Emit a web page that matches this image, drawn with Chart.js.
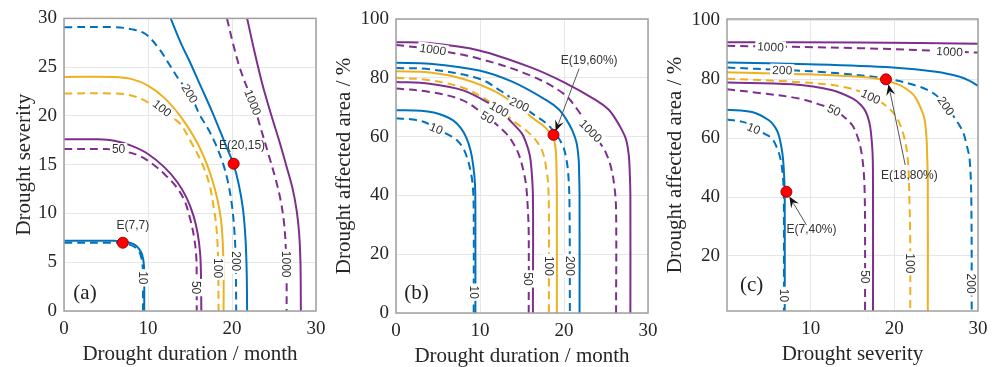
<!DOCTYPE html>
<html><head><meta charset="utf-8">
<script src="https://cdn.jsdelivr.net/npm/chart.js@4.4.1/dist/chart.umd.min.js"></script>
<style>
html,body{margin:0;padding:0;background:#fff;width:998px;height:367px;overflow:hidden}
canvas{position:absolute;left:0;top:0}
</style></head><body>
<canvas id="ca" width="998" height="367"></canvas>
<canvas id="cb" width="998" height="367"></canvas>
<canvas id="cc" width="998" height="367"></canvas>
<script>
// ---------- Panel (a): duration vs severity ----------
const a10s = [[0,7.2],[6,7.2],[7,7.1],[7.8,7.0],[8.6,6.7],[9.2,6.0],[9.45,5.2],[9.55,4],[9.55,0]];
const a10d = [[0,7.0],[6,7.0],[7,6.95],[7.8,6.8],[8.5,6.5],[9.05,5.9],[9.3,5.0],[9.4,4],[9.4,0]];
const a50s = [[0,17.6],[4,17.6],[6,17.45],[8,16.95],[10,16.1],[12,14.7],[13.5,13.2],[14.6,11.6],[15.4,9.8],[15.9,8],[16.2,6],[16.3,4],[16.35,0]];
const a50d = [[0,16.6],[5,16.6],[7,16.4],[9,15.9],[10.5,15.1],[12,14.0],[13.3,12.8],[14.3,11.4],[15.0,9.5],[15.5,7.5],[15.75,5.5],[15.8,3],[15.8,0]];
const a100s = [[0,24.0],[6,24.0],[8,23.8],[10,23.1],[12,21.8],[14,19.8],[15.7,17.5],[16.9,15.3],[17.7,13.3],[18.3,11.3],[18.7,9.3],[18.9,7],[19.0,4],[19.0,0]];
const a100d = [[0,22.3],[6,22.3],[8,22.1],[10,21.4],[12,20.2],[13.7,19.3],[15.2,17.2],[16.4,15.2],[17.3,13.0],[17.9,10.2],[18.2,8],[18.35,5],[18.4,0]];
const a200s = [[12.7,30],[13.9,27.5],[15.0,25.5],[16.3,23],[17.6,20.5],[18.7,18.2],[19.5,16.5],[20.2,15.0],[20.8,13],[21.3,10.5],[21.6,7.5],[21.75,4],[21.8,0]];
const a200d = [[0,29.1],[6,29.1],[8,28.9],[9.7,28.4],[11.3,26.9],[12.6,25.2],[13.7,23.7],[15.0,22.3],[16.1,20.2],[17.2,18.6],[18.1,17.0],[18.9,15.2],[19.5,13.3],[20.0,10.8],[20.3,8],[20.45,5],[20.5,0]];
const a1000s = [[21.8,30],[22.7,26.5],[23.6,23.3],[24.6,20.3],[25.6,17.5],[26.5,14.8],[27.2,12.6],[27.7,10.3],[28.0,7.9],[28.15,5],[28.2,0]];
const a1000d = [[19.4,30],[20.1,27.5],[20.9,25.0],[21.7,23.1],[22.5,21.4],[23.4,18.8],[24.4,15.9],[25.2,13.5],[25.8,11.3],[26.2,9],[26.4,6.5],[26.5,3],[26.5,0]];
const ptsA = [[7,7],[20.2,15.1]];
const labA = [['10',9.45,3.4,90],['50',15.8,2.4,90],['100',18.4,4.4,90],['200',20.5,5.1,90],['1000',26.5,4.8,90],
              ['50',6.5,16.6,0],['100',11.7,20.8,38],['200',15.0,22.3,58],['1000',22.5,21.4,68]];
const noteA = [['E(7,7)',8.2,8.7],['E(20,15)',21.2,17.0]];
const arrowA = [];
const xTicksA = [0,10,20,30], yTicksA = [0,5,10,15,20,25,30];

// ---------- Panel (b): duration vs affected area ----------
const b10s = [[0,69.0],[3,68.8],[4.5,68.2],[5.8,67],[6.8,65.5],[7.7,63],[8.4,59.5],[8.9,55],[9.2,50],[9.4,44],[9.45,35],[9.45,0]];
const b10d = [[0,66.2],[2,65.8],[3.5,64.8],[4.8,62.8],[6,61],[7.2,58.9],[8,56],[8.5,52.5],[8.9,48],[9.15,43],[9.25,35],[9.25,0]];
const b50s = [[0,78.6],[4,78.0],[7.9,75.8],[11.1,71.3],[12.6,68.2],[13.9,64.5],[15.0,61],[15.5,57.8],[15.9,54],[16.1,49.9],[16.3,40],[16.3,0]];
const b50d = [[0,76.4],[4,75.2],[7.9,72.4],[10.5,67.5],[13.1,61.1],[14.1,57],[14.7,53.3],[15.2,48],[15.5,43.1],[15.7,35],[15.8,27],[15.8,0]];
const b100s = [[0,82.2],[4,81.8],[7.9,79.7],[11.9,75.2],[15.1,69.0],[16.5,65.8],[17.5,63.8],[18.2,61.8],[18.7,60],[19.0,56],[19.1,50],[19.15,40],[19.15,0]];
const b100d = [[0,80.0],[4,79.2],[7.9,76.7],[10.5,73],[12.3,69.5],[14.3,64.6],[15.9,61.1],[16.9,57.8],[17.5,54.4],[17.9,49],[18.1,44.3],[18.2,35],[18.2,0]];
const b200s = [[0,85.1],[4,84.8],[9.9,82.5],[13.9,78.6],[17.9,72.4],[19.4,69.2],[20.3,65.7],[21.0,62],[21.5,57.8],[21.75,52],[21.8,47.6],[21.85,40],[21.85,0]];
const b200d = [[0,83.3],[4,82.9],[9.9,79.7],[12.5,75.5],[14.7,71],[16.5,67.3],[17.9,64.5],[19.0,61],[19.9,56.6],[20.3,52],[20.5,47.6],[20.65,38],[20.7,0]];
const b1000s = [[0,92.1],[4,91.8],[9.9,89.3],[15.9,83.7],[19.9,78.6],[23.8,72.4],[25.3,69.2],[26.2,65.7],[26.9,62.2],[27.4,58.9],[27.7,54],[27.8,49.9],[27.9,40],[27.9,0]];
const b1000d = [[0,91.2],[4.4,89.6],[9.9,86.5],[15.9,80.9],[19.9,74.7],[21.7,68.8],[23.2,62],[24.3,57.8],[25.0,54.4],[25.6,49.5],[26.0,43.1],[26.2,35],[26.2,0]];
const ptsB = [[18.75,60.6]];
const labB = [['10',9.3,7.1,90],['50',15.75,11.6,90],['100',18.2,16,90],['200',20.7,16,90],
              ['10',4.8,62.8,22],['50',10.9,66.6,30],['100',12.3,69.4,30],['200',14.7,71.0,25],['1000',4.4,89.7,8],['1000',23.2,62,45]];
const noteB = [['E(19,60%)',23.0,85.8]];
const arrowB = [[21.8,83.1,19.0,61.8]];
const xTicksB = [0,10,20,30], yTicksB = [0,20,40,60,80,100];

// ---------- Panel (c): severity vs affected area ----------
const c10s = [[0,69.7],[3,68.9],[5,66.1],[5.8,63.5],[6.2,60.9],[6.5,57],[6.7,52.9],[6.85,46],[6.9,39.2],[6.9,0]];
const c10d = [[0,66.4],[2.2,65.3],[3.2,63.5],[4.5,61.5],[5.4,59.8],[6.0,56.5],[6.4,52.9],[6.65,48],[6.75,43.8],[6.8,35],[6.8,0]];
const c50s = [[0,78.9],[7.8,78.3],[12.6,76.3],[15.0,73.5],[16.0,71.3],[16.6,68.9],[17.0,65.5],[17.2,62.1],[17.4,55],[17.45,45],[17.45,0]];
const c50d = [[0,76.6],[3.8,75.4],[8.6,73.5],[11,71.5],[12.8,69.6],[14,67.2],[15.0,64.3],[15.6,60.5],[16.0,56.3],[16.3,50],[16.45,42],[16.5,27.8],[16.5,0]];
const c100s = [[0,82.4],[9.8,81.7],[17.8,80.3],[20.6,78.1],[22.0,75.5],[22.6,73.5],[23.2,70],[23.6,66.6],[23.85,60],[23.9,56.3],[24.0,45],[24.0,0]];
const c100d = [[0,80.2],[7.8,79.2],[13.8,77.5],[17.2,74.2],[19.8,68.9],[21.0,62.1],[21.6,52.9],[21.8,39.2],[21.9,25],[21.9,0]];
const c200s = [[0,85.7],[9.8,85.1],[19.8,84.0],[25,82.6],[27.8,80.9],[29,79.5],[30,77.8]];
const c200d = [[0,84.0],[6.6,83.2],[11.8,82.4],[19,80.3],[23,77.5],[24.8,75],[26.2,71],[27.3,66.5],[28.2,62.1],[28.7,57],[29.0,52.9],[29.2,39.2],[29.25,0]];
const c1000s = [[0,92.6],[15.8,92.5],[30,92.1]];
const c1000d = [[0,91.4],[15.8,90.6],[26.6,89.5],[30,89.1]];
const ptsC = [[7.1,41.8],[19.0,80.0]];
const labC = [['10',6.8,6.6,90],['50',16.5,12.9,90],['100',21.9,17.5,90],['200',29.25,10.6,90],
              ['10',3.2,63.4,22],['50',12.8,69.6,25],['100',17.2,74.2,25],['200',6.6,83.2,2],['200',26.2,71,55],['1000',5.2,91.1,3],['1000',26.6,89.5,3]];
const noteC = [['E(7,40%)',10.1,28.8],['E(18,80%)',21.8,47.3]];
const arrowC = [[9.5,30.5,7.45,40.2],[21.3,50.9,19.3,78.3]];
const xTicksC = [10,20,30], yTicksC = [20,40,60,80,100];

// ---------- styling ----------
const BLUE='#0072BD', PURPLE='#7E2F8E', YELLOW='#EDB120';
const SERIF='"Liberation Serif","Times New Roman",serif';
const SANS='"Liberation Sans",Arial,sans-serif';
const toXY = arr => arr.map(p => ({x:p[0], y:p[1]}));

function curveSet(list){
  return list.map(([pts,color,dashed]) => ({
    data: toXY(pts), showLine:true, borderColor:color, backgroundColor:color,
    borderWidth:2, borderDash: dashed ? [8,5] : [], pointRadius:0, tension:0.35, fill:false
  }));
}

const overlay = {
  id:'overlay',
  afterDatasetDraw(chart, args, o){
    if (args.index !== 1) return;
    const ctx = chart.ctx, xs = chart.scales.x, ys = chart.scales.y, ca = chart.chartArea;
    ctx.save();
    ctx.beginPath(); ctx.rect(ca.left, ca.top, ca.right-ca.left, ca.bottom-ca.top); ctx.clip();
    ctx.font = '12px ' + SANS; ctx.textAlign='center'; ctx.textBaseline='middle';
    o.labels.forEach(([t,x,y,ang]) => {
      const px = xs.getPixelForValue(x), py = ys.getPixelForValue(y);
      ctx.save(); ctx.translate(px,py); ctx.rotate(ang*Math.PI/180);
      const w = ctx.measureText(t).width;
      ctx.fillStyle='#fff'; ctx.fillRect(-w/2-2,-6,w+4,12);
      ctx.fillStyle='#333'; ctx.fillText(t,0,1);
      ctx.restore();
    });
    ctx.restore();
  },
  afterDatasetsDraw(chart, args, o){
    const ctx = chart.ctx, xs = chart.scales.x, ys = chart.scales.y, ca = chart.chartArea;
    ctx.save();
    // arrows
    o.arrows.forEach(([x1,y1,x2,y2]) => {
      const p1x=xs.getPixelForValue(x1), p1y=ys.getPixelForValue(y1);
      const p2x=xs.getPixelForValue(x2), p2y=ys.getPixelForValue(y2);
      const a=Math.atan2(p2y-p1y,p2x-p1x);
      ctx.strokeStyle='#555'; ctx.lineWidth=1;
      ctx.beginPath(); ctx.moveTo(p1x,p1y); ctx.lineTo(p2x-8*Math.cos(a),p2y-8*Math.sin(a)); ctx.stroke();
      ctx.fillStyle='#111';
      ctx.beginPath(); ctx.moveTo(p2x,p2y);
      ctx.lineTo(p2x-11*Math.cos(a)+4.5*Math.sin(a), p2y-11*Math.sin(a)-4.5*Math.cos(a));
      ctx.lineTo(p2x-7*Math.cos(a), p2y-7*Math.sin(a));
      ctx.lineTo(p2x-11*Math.cos(a)-4.5*Math.sin(a), p2y-11*Math.sin(a)+4.5*Math.cos(a));
      ctx.closePath(); ctx.fill();
    });
    // notes
    ctx.font='12px '+SANS; ctx.fillStyle='#333'; ctx.textAlign='center'; ctx.textBaseline='middle';
    o.notes.forEach(([t,x,y]) => ctx.fillText(t, xs.getPixelForValue(x), ys.getPixelForValue(y)));
    // panel tag
    ctx.font='21px '+SERIF; ctx.fillStyle='#222';
    ctx.fillText(o.tag[0], xs.getPixelForValue(o.tag[1]), ys.getPixelForValue(o.tag[2]));
    // frame
    ctx.strokeStyle='#a0a0a0'; ctx.lineWidth=1.5;
    ctx.strokeRect(ca.left, ca.top, ca.right-ca.left, ca.bottom-ca.top);
    ctx.restore();
  }
};

function makePanel(id, cfg){
  const datasets = [{
    data: toXY(cfg.pts), showLine:false, pointRadius:5.5, pointBackgroundColor:'#ff0000',
    pointBorderColor:'#a00000', pointBorderWidth:1
  }].concat(curveSet(cfg.curves));
  return new Chart(document.getElementById(id), {
    type:'scatter',
    data:{datasets},
    options:{
      responsive:false, animation:false, devicePixelRatio:1,
      events:[],
      layout:{padding:cfg.pad},
      plugins:{legend:{display:false}, tooltip:{enabled:false},
        overlay:{labels:cfg.labels, notes:cfg.notes, arrows:cfg.arrows, tag:cfg.tag}},
      scales:{
        x:{type:'linear', min:cfg.xr[0], max:cfg.xr[1],
          afterBuildTicks: s => { s.ticks = cfg.xt.map(v=>({value:v})); },
          afterFit: s => { s.height = cfg.xh; },
          grid:{color:'#e6e6e6', lineWidth:1, drawTicks:false},
          border:{display:false},
          ticks:{autoSkip:false, maxRotation:0, padding:cfg.xtp, color:'#262626', font:{family:SERIF, size:19}},
          title:{display:true, text:cfg.xtitle, color:'#262626', font:{family:SERIF, size:21, lineHeight:1}, padding:{top:0,bottom:cfg.xtitlePad}}
        },
        y:{type:'linear', min:cfg.yr[0], max:cfg.yr[1],
          afterBuildTicks: s => { s.ticks = cfg.yt.map(v=>({value:v})); },
          afterFit: s => { s.width = 64; },
          grid:{color:'#e6e6e6', lineWidth:1, drawTicks:false},
          border:{display:false},
          ticks:{autoSkip:false, padding:7, color:'#262626', font:{family:SERIF, size:19}},
          title:{display:true, text:cfg.ytitle, color:'#262626', font:{family:SERIF, size:21, lineHeight:1}, padding:{top:cfg.ytitlePad,bottom:0}}
        }
      }
    },
    plugins:[overlay]
  });
}

makePanel('ca', {
  curves:[[a10s,BLUE,0],[a10d,BLUE,1],[a50s,PURPLE,0],[a50d,PURPLE,1],[a100s,YELLOW,0],[a100d,YELLOW,1],
          [a200s,BLUE,0],[a200d,BLUE,1],[a1000s,PURPLE,0],[a1000d,PURPLE,1]],
  pts:ptsA, labels:labA, notes:noteA, arrows:arrowA, tag:['(a)',2.5,1.8],
  xr:[0,30], yr:[0,30], xt:xTicksA, yt:yTicksA,
  pad:{left:0,right:682,top:18,bottom:0}, xh:56, xtp:7, xtitlePad:2.5, ytitlePad:13.5,
  xtitle:'Drought duration / month', ytitle:'Drought severity'
});
makePanel('cb', {
  curves:[[b10s,BLUE,0],[b10d,BLUE,1],[b50s,PURPLE,0],[b50d,PURPLE,1],[b100s,YELLOW,0],[b100d,YELLOW,1],
          [b200s,BLUE,0],[b200d,BLUE,1],[b1000s,PURPLE,0],[b1000d,PURPLE,1]],
  pts:ptsB, labels:labB, notes:noteB, arrows:arrowB, tag:['(b)',2.45,6.5],
  xr:[0,30], yr:[0,100], xt:xTicksB, yt:yTicksB,
  pad:{left:332,right:350,top:19,bottom:0}, xh:54, xtp:7, xtitlePad:0.3, ytitlePad:1.5,
  xtitle:'Drought duration / month', ytitle:'Drought affected area / %'
});
makePanel('cc', {
  curves:[[c10s,BLUE,0],[c10d,BLUE,1],[c50s,PURPLE,0],[c50d,PURPLE,1],[c100s,YELLOW,0],[c100d,YELLOW,1],
          [c200s,BLUE,0],[c200d,BLUE,1],[c1000s,PURPLE,0],[c1000d,PURPLE,1]],
  pts:ptsC, labels:labC, notes:noteC, arrows:arrowC, tag:['(c)',2.95,10.1],
  xr:[0,30], yr:[1.3,100.5], xt:xTicksC, yt:yTicksC,
  pad:{left:663,right:20,top:19,bottom:0}, xh:56, xtp:7, xtitlePad:2.5, ytitlePad:1.5,
  xtitle:'Drought severity', ytitle:'Drought affected area / %'
});
</script>
</body></html>
